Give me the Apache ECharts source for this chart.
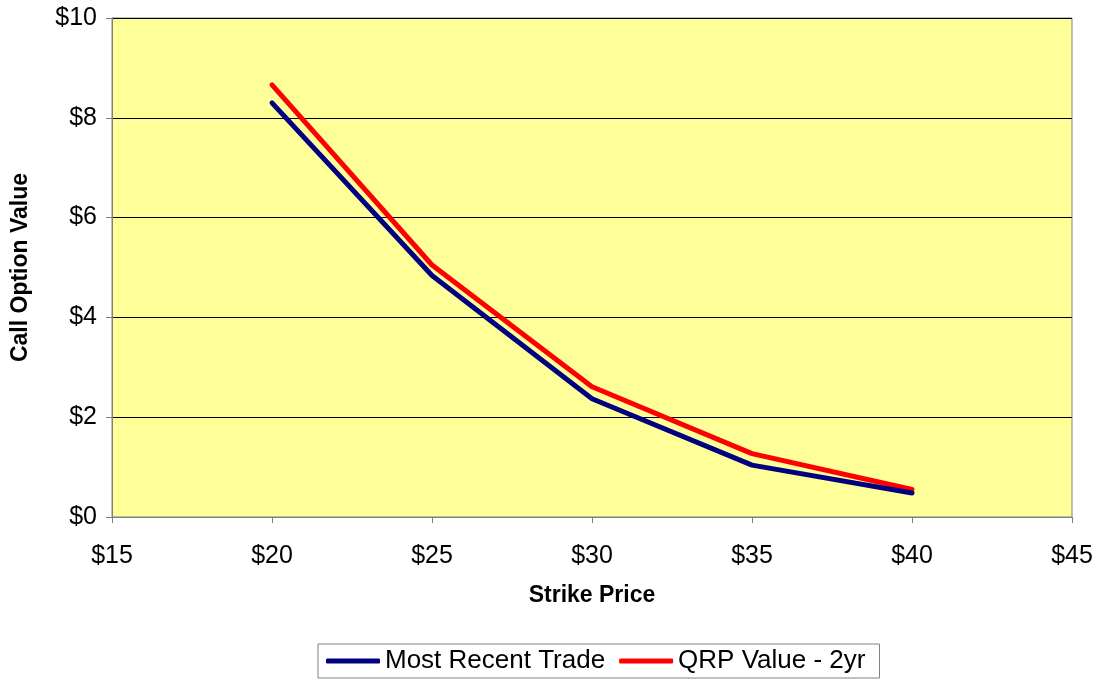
<!DOCTYPE html>
<html>
<head>
<meta charset="utf-8">
<script src="https://cdn.jsdelivr.net/npm/echarts@6/dist/echarts.min.js"></script>
<style>
  html, body { margin: 0; padding: 0; background: #fff; }
  #chart { width: 1100px; height: 679px; }
</style>
</head>
<body>
<div id="chart"></div>
<script>
// Strike prices and call option values
const strikes = [20, 25, 30, 35, 40];
const mostRecentTrade = [8.30, 4.84, 2.37, 1.04, 0.48];
const qrpValue2yr = [8.66, 5.05, 2.61, 1.27, 0.55];
const seriesNames = ['Most Recent Trade', 'QRP Value - 2yr'];
const xTitle = 'Strike Price';
const yTitle = 'Call Option Value';

const font = '"Liberation Sans", Arial, sans-serif';
const pairs = (xs, ys) => xs.map((x, i) => [x, ys[i]]);

const chart = echarts.init(document.getElementById('chart'), null, { renderer: 'canvas' });
chart.setOption({
  animation: false,
  backgroundColor: '#ffffff',
  textStyle: { fontFamily: font },
  grid: {
    left: 112, right: 28, top: 18, bottom: 162,
    show: true,
    backgroundColor: '#FFFF99',
    borderColor: '#808080',
    borderWidth: 1
  },
  xAxis: {
    type: 'value',
    min: 15, max: 45, interval: 5,
    name: xTitle,
    nameLocation: 'middle',
    nameGap: 67,
    nameTextStyle: { fontFamily: font, fontSize: 23, fontWeight: 'bold', color: '#000' },
    axisLine: { show: true, lineStyle: { color: '#808080', width: 1 } },
    axisTick: { show: true, inside: false, length: 6, lineStyle: { color: '#808080' } },
    axisLabel: { formatter: v => '$' + v, fontFamily: font, fontSize: 25, color: '#000', margin: 27 },
    splitLine: { show: false }
  },
  yAxis: {
    type: 'value',
    min: 0, max: 10, interval: 2,
    name: yTitle,
    nameLocation: 'middle',
    nameGap: 80,
    nameRotate: 90,
    nameTextStyle: { fontFamily: font, fontSize: 23, fontWeight: 'bold', color: '#000' },
    axisLine: { show: true, lineStyle: { color: '#808080', width: 1 } },
    axisTick: { show: true, inside: false, length: 6, lineStyle: { color: '#808080' } },
    axisLabel: { formatter: v => '$' + v, fontFamily: font, fontSize: 25, color: '#000', margin: 15 },
    splitLine: { show: true, lineStyle: { color: '#000', width: 1 } }
  },
  legend: {
    data: seriesNames.map(n => ({ name: n, icon: 'roundRect' })),
    bottom: 1,
    left: 318,
    orient: 'horizontal',
    backgroundColor: '#fff',
    borderColor: '#808080',
    borderWidth: 1,
    borderRadius: 0,
    padding: [4, 14, 4, 8],
    itemGap: 14,
    itemWidth: 54,
    itemHeight: 5,
    textStyle: { fontFamily: font, fontSize: 26, color: '#000' }
  },
  series: [
    {
      name: seriesNames[0],
      type: 'line',
      data: pairs(strikes, mostRecentTrade),
      symbol: 'none',
      lineStyle: { color: '#000080', width: 5, cap: 'round', join: 'round' },
      itemStyle: { color: '#000080' },
      z: 3
    },
    {
      name: seriesNames[1],
      type: 'line',
      data: pairs(strikes, qrpValue2yr),
      symbol: 'none',
      lineStyle: { color: '#FF0000', width: 5, cap: 'round', join: 'round' },
      itemStyle: { color: '#FF0000' },
      z: 2
    }
  ]
});
</script>
</body>
</html>
